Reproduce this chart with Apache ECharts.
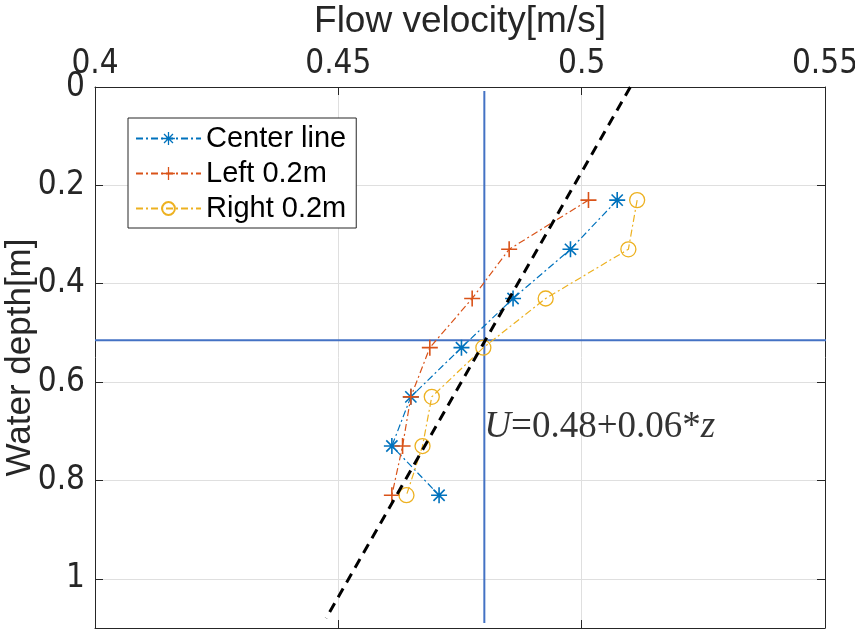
<!DOCTYPE html>
<html>
<head>
<meta charset="utf-8">
<script src="https://cdn.jsdelivr.net/npm/echarts@6/dist/echarts.min.js"></script>
<style>html,body{margin:0;padding:0;background:#fff}#c{width:855px;height:629px}</style>
</head>
<body>
<div id="c"></div>
<script>
// ---- data ----
const depths = [0.23, 0.33, 0.43, 0.53, 0.63, 0.73, 0.83];
const centerLine = [0.5073, 0.4977, 0.4859, 0.4753, 0.4649, 0.4610, 0.4707];
const left02 = [0.5014, 0.4851, 0.4775, 0.4688, 0.4649, 0.4632, 0.4610];
const right02 = [0.5114, 0.5096, 0.4926, 0.4798, 0.4692, 0.4673, 0.4640];
const fitU = [0.5100, 0.4475];
const fitZ = [0.00, 1.08];
const meanU = 0.48;
const meanDepth = 0.515;
const vLineZ = [0.008, 1.09];
const hLineU = [0.40, 0.5551];
const xTicks = [0.4, 0.45, 0.5, 0.55];
const yTicks = [0, 0.2, 0.4, 0.6, 0.8, 1];
const seriesNames = ['Center line', 'Left 0.2m', 'Right 0.2m'];
const formulaPos = [0.4800, 0.691];

const FONT = '"Liberation Sans", Arial, sans-serif';
const TICKFONT = '"Liberation Sans Narrow", "Arial Narrow", "DejaVu Sans Condensed", sans-serif';
const AX = '#262626';
const GRID = '#dfdfdf';

const plusPath = 'path://M-1 -10 L1 -10 L1 10 L-1 10 Z M-10 -1 L10 -1 L10 1 L-10 1 Z';
const starPath = 'path://M-1 -10 L1 -10 L1 10 L-1 10 Z M-10 -1 L10 -1 L10 1 L-10 1 Z ' +
  'M-6.29 -7.71 L7.71 6.29 L6.29 7.71 L-7.71 -6.29 Z ' +
  'M7.71 -6.29 L-6.29 7.71 L-7.71 6.29 L6.29 -7.71 Z';

function pairs(xs, ys) { return xs.map((x, i) => [x, ys[i]]); }

const chart = echarts.init(document.getElementById('c'));
const dashDot = [7, 3, 2, 3];

const option = {
  animation: false,
  backgroundColor: '#fff',
  grid: { left: 95, top: 87, width: 730, height: 541, containLabel: false, outerBoundsMode: 'none' },
  legend: {
    left: 128, top: 118,
    orient: 'vertical',
    data: seriesNames,
    backgroundColor: '#fff',
    borderColor: AX, borderWidth: 1,
    padding: [6, 10, 5, 7],
    itemGap: 6,
    itemWidth: 65, itemHeight: 16,
    textStyle: { fontFamily: FONT, fontSize: 29, color: '#000' }
  },
  xAxis: [{
    type: 'value', position: 'top', min: 0.4, max: 0.55, interval: 0.05,
    name: 'Flow velocity[m/s]', nameLocation: 'middle', nameGap: 47, nameMoveOverlap: false,
    nameTextStyle: { fontFamily: FONT, fontSize: 37, color: AX },
    axisLine: { show: true, lineStyle: { color: AX, width: 1 } },
    axisTick: { show: true, inside: true, length: 8, lineStyle: { color: AX } },
    axisLabel: { fontFamily: TICKFONT, fontSize: 33, color: AX, margin: 6,
      formatter: v => String(+v.toFixed(2)) },
    splitLine: { show: true, lineStyle: { color: GRID, width: 1 } }
  }, {
    type: 'value', position: 'bottom', min: 0.4, max: 0.55, interval: 0.05,
    axisLine: { show: true, onZero: false, lineStyle: { color: AX, width: 1 } },
    axisTick: { show: true, inside: true, length: 8, lineStyle: { color: AX } },
    axisLabel: { show: false }, splitLine: { show: false }
  }],
  yAxis: [{
    type: 'value', inverse: true, min: 0, max: 1.1, interval: 0.2,
    name: 'Water depth[m]', nameLocation: 'middle', nameGap: 57, nameMoveOverlap: false,
    nameTextStyle: { fontFamily: FONT, fontSize: 35, color: AX },
    axisLine: { show: true, onZero: false, lineStyle: { color: AX, width: 1 } },
    axisTick: { show: true, inside: true, length: 8, lineStyle: { color: AX } },
    axisLabel: { fontFamily: TICKFONT, fontSize: 33, color: AX, margin: 10, showMaxLabel: false,
      formatter: v => (yTicks.some(t => Math.abs(t - v) < 1e-9) ? String(+v.toFixed(2)) : '') },
    splitLine: { show: true, lineStyle: { color: GRID, width: 1 } }
  }, {
    type: 'value', inverse: true, position: 'right', min: 0, max: 1.1, interval: 0.2,
    axisLine: { show: true, onZero: false, lineStyle: { color: AX, width: 1 } },
    axisTick: { show: true, inside: true, length: 8, lineStyle: { color: AX } },
    axisLabel: { show: false }, splitLine: { show: false }
  }],
  series: [
    {
      type: 'line', name: 'meanDepthLine', silent: true, clip: false, symbol: 'none',
      data: pairs(hLineU, [meanDepth, meanDepth]),
      lineStyle: { color: '#4472C4', width: 2 }, z: 2
    },
    {
      type: 'line', name: 'meanVelLine', silent: true, symbol: 'none',
      data: pairs([meanU, meanU], vLineZ),
      lineStyle: { color: '#4472C4', width: 2 }, z: 2
    },
    {
      type: 'line', name: seriesNames[0], data: pairs(centerLine, depths),
      symbol: starPath, symbolSize: 16,
      itemStyle: { color: '#0072BD' },
      lineStyle: { color: '#0072BD', width: 1.2, type: dashDot }, z: 4
    },
    {
      type: 'line', name: seriesNames[1], data: pairs(left02, depths),
      symbol: plusPath, symbolSize: 16,
      itemStyle: { color: '#D95319' },
      lineStyle: { color: '#D95319', width: 1.2, type: dashDot }, z: 4
    },
    {
      type: 'line', name: seriesNames[2], data: pairs(right02, depths),
      symbol: 'circle', symbolSize: 15,
      itemStyle: { color: 'rgba(255,255,255,0)', borderColor: '#EDB120', borderWidth: 1.3 },
      lineStyle: { color: '#EDB120', width: 1.2, type: dashDot }, z: 4
    },
    {
      type: 'line', name: 'fit', silent: true, symbol: 'none',
      data: pairs(fitU, fitZ),
      lineStyle: { color: '#000', width: 3, type: [10, 7] }, z: 5
    },
    {
      type: 'scatter', name: 'formula', silent: true, symbolSize: 0,
      data: [formulaPos],
      label: {
        show: true, position: 'right', distance: 0,
        formatter: '{i|U}{n|=0.48+0.06*}{i|z}',
        rich: {
          i: { fontFamily: '"Liberation Serif", "Times New Roman", serif', fontStyle: 'italic', fontSize: 37, color: '#000' },
          n: { fontFamily: '"Liberation Serif", "Times New Roman", serif', fontSize: 37, color: '#000' }
        }
      }, z: 6
    }
  ]
};
chart.setOption(option);
</script>
</body>
</html>
